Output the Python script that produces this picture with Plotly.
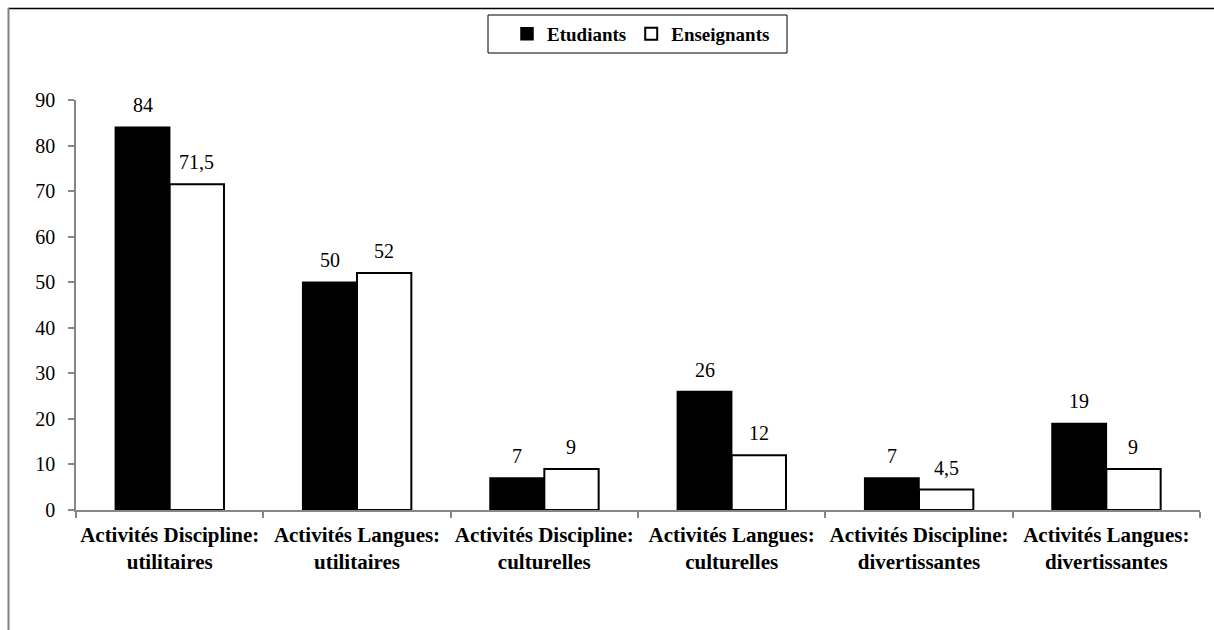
import plotly.graph_objects as go

categories = [
    "Activités Discipline:<br>utilitaires",
    "Activités Langues:<br>utilitaires",
    "Activités Discipline:<br>culturelles",
    "Activités Langues:<br>culturelles",
    "Activités Discipline:<br>divertissantes",
    "Activités Langues:<br>divertissantes",
]
etudiants = [84, 50, 7, 26, 7, 19]
enseignants = [71.5, 52, 9, 12, 4.5, 9]
etudiants_labels = ["84", "50", "7", "26", "7", "19"]
enseignants_labels = ["71,5", "52", "9", "12", "4,5", "9"]
y_ticks = [0, 10, 20, 30, 40, 50, 60, 70, 80, 90]

FONT = "Times New Roman, Liberation Serif, serif"
W, H = 1214, 630
ML, MR, MT, MB = 76, 14, 100, 120
PW, PH = W - ML - MR, H - MT - MB


def px_x(x):
    return (x - ML) / PW


def px_y(y):
    return 1 + (MT - y) / PH


fig = go.Figure()
fig.add_trace(go.Bar(
    name="Etudiants", x=categories, y=etudiants,
    marker=dict(color="black", line=dict(color="black", width=1.5)),
))
fig.add_trace(go.Bar(
    name="Enseignants", x=categories, y=enseignants,
    marker=dict(color="white", line=dict(color="black", width=2)),
))

ann = []
for c, v, t in zip(categories, etudiants, etudiants_labels):
    ann.append(dict(x=c, y=v, text=t, xref="x", yref="y", showarrow=False,
                    xshift=-27, yanchor="bottom", yshift=9,
                    font=dict(family=FONT, size=20, color="black")))
for c, v, t in zip(categories, enseignants, enseignants_labels):
    ann.append(dict(x=c, y=v, text=t, xref="x", yref="y", showarrow=False,
                    xshift=27, yanchor="bottom", yshift=9,
                    font=dict(family=FONT, size=20, color="black")))

shapes = [
    # outer chart border (top black, left grey)
    dict(type="line", xref="paper", yref="paper", x0=px_x(8), x1=px_x(1214),
         y0=px_y(8.5), y1=px_y(8.5), line=dict(color="black", width=1.5)),
    dict(type="line", xref="paper", yref="paper", x0=px_x(8.5), x1=px_x(8.5),
         y0=px_y(630), y1=px_y(8), line=dict(color="#7f7f7f", width=2)),
    # legend frame
    dict(type="rect", xref="paper", yref="paper", x0=px_x(488), x1=px_x(787),
         y0=px_y(53), y1=px_y(15), line=dict(color="black", width=1)),
]

fig.update_layout(
    width=W, height=H,
    margin=dict(l=ML, r=MR, t=MT, b=MB, autoexpand=False),
    paper_bgcolor="white", plot_bgcolor="white",
    barmode="group", bargap=0.42, bargroupgap=0,
    font=dict(family=FONT, size=20, color="black"),
    showlegend=True,
    legend=dict(orientation="h", x=px_x(641), xanchor="center", y=px_y(34), yanchor="middle",
                borderwidth=0, bgcolor="rgba(0,0,0,0)",
                font=dict(family=FONT, size=19, color="black", weight="bold"),
                itemwidth=30, traceorder="normal"),
    annotations=ann,
    shapes=shapes,
)
fig.update_yaxes(range=[0, 90], tickvals=y_ticks, showgrid=False, zeroline=False,
                 showline=True, linecolor="#868686", linewidth=1.5,
                 ticks="outside", ticklen=6, tickcolor="#868686", tickwidth=1.5,
                 ticklabelstandoff=9, automargin=False,
                 tickfont=dict(family=FONT, size=20, color="black"))
fig.update_xaxes(showgrid=False, showline=True, linecolor="#868686", linewidth=1.5,
                 ticks="outside", ticklen=6, tickcolor="#868686", tickwidth=1.5,
                 tickson="boundaries", ticklabelstandoff=5, tickangle=0, automargin=False,
                 tickfont=dict(family=FONT, size=21, color="black", weight="bold"))

fig.write_html("out.html", config={"displayModeBar": False},
               post_script="document.body.style.margin='0';")
